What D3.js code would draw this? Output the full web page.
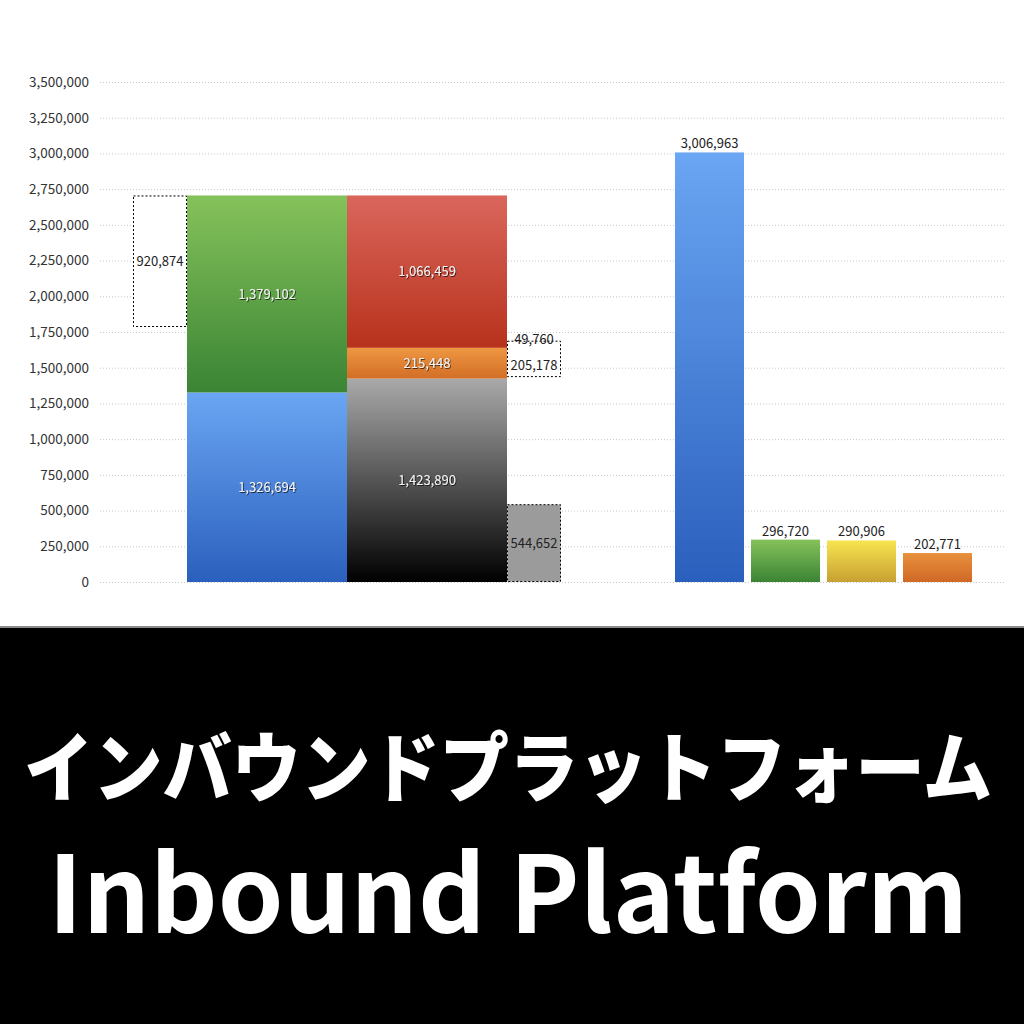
<!DOCTYPE html>
<html>
<head>
<meta charset="utf-8">
<script src="https://cdn.jsdelivr.net/npm/d3@7"></script>
<style>
  html, body { margin: 0; padding: 0; background: #fff; }
  svg { display: block; }
</style>
</head>
<body>
<div id="chart"></div>
<script>
// axis ticks
var yTicks = [0, 250000, 500000, 750000, 1000000, 1250000, 1500000, 1750000,
  2000000, 2250000, 2500000, 2750000, 3000000, 3250000, 3500000];

// left stacked columns
var stackA = [
  { name: 'blue', value: 1326694 },
  { name: 'green', value: 1379102 }
];
var stackB = [
  { name: 'gray', value: 1423890 },
  { name: 'orange', value: 215448 },
  { name: 'red', value: 1066459 }
];
// dotted side boxes
var gapA = 920874;
var gapBLow = 205178, gapBHigh = 49760;
var sideB = 544652;

// right group
var rightNames = ['blue', 'green', 'yellow', 'orange2'];
var rightValues = [3006963, 296720, 290906, 202771];

var grads = {
  blue: ['#6aa6f3', '#2b5fbd'],
  green: ['#86c25b', '#3a8434'],
  red: ['#da665c', '#b8321c'],
  orange: ['#ee9742', '#d26e26'],
  gray: ['#a9a9a9', '#000000'],
  yellow: ['#f7e550', '#c8a032'],
  orange2: ['#e8913d', '#cf6826']
};

var W = 1024, H = 1024;
var svg = d3.select('#chart').append('svg')
  .attr('width', W).attr('height', H);

var defs = svg.append('defs');
Object.keys(grads).forEach(function(k) {
  var g = defs.append('linearGradient').attr('id', 'g-' + k)
    .attr('x1', 0).attr('y1', 0).attr('x2', 0).attr('y2', 1);
  g.append('stop').attr('offset', '0%').attr('stop-color', grads[k][0]);
  g.append('stop').attr('offset', '100%').attr('stop-color', grads[k][1]);
});
var sh = defs.append('filter').attr('id', 'shadow')
  .attr('x', '-20%').attr('y', '-40%').attr('width', '140%').attr('height', '180%');
sh.append('feDropShadow').attr('dx', 0.8).attr('dy', 0.8)
  .attr('stdDeviation', 0.6).attr('flood-color', '#000').attr('flood-opacity', 0.8);

var y = d3.scaleLinear().domain([0, 3500000]).range([582, 82]);
var fmt = d3.format(',');
var numFont = '"Noto Sans CJK JP", "Noto Sans", sans-serif';

// grid
svg.append('g').selectAll('line').data(yTicks).join('line')
  .attr('x1', 100).attr('x2', 1005)
  .attr('y1', function(d) { return y(d) + 0.5; })
  .attr('y2', function(d) { return y(d) + 0.5; })
  .attr('stroke', '#c8c8c8').attr('stroke-width', 1)
  .attr('stroke-dasharray', '1,2');

// y axis labels
var yAxis = d3.axisLeft(y).tickValues(yTicks).tickFormat(fmt).tickSize(0).tickPadding(0);
svg.append('g').attr('transform', 'translate(89,0)').call(yAxis)
  .call(function(g) { g.select('.domain').remove(); })
  .selectAll('text')
  .attr('font-family', numFont).attr('font-size', 13.5).attr('fill', '#333');

// left columns
var x = d3.scaleBand().domain(['A', 'B']).range([187, 507]).padding(0);
var sideW = 54;

function drawStack(key, data) {
  var base = 0;
  var segs = data.map(function(d) {
    var s = { name: d.name, value: d.value, y0: base, y1: base + d.value };
    base += d.value;
    return s;
  });
  var g = svg.append('g');
  g.selectAll('rect').data(segs).join('rect')
    .attr('x', x(key)).attr('width', x.bandwidth())
    .attr('y', function(d) { return y(d.y1); })
    .attr('height', function(d) { return y(d.y0) - y(d.y1); })
    .attr('fill', function(d) { return 'url(#g-' + d.name + ')'; });
  g.selectAll('text').data(segs).join('text')
    .attr('x', x(key) + x.bandwidth() / 2)
    .attr('y', function(d) { return (y(d.y0) + y(d.y1)) / 2; })
    .attr('dy', '0.35em')
    .attr('text-anchor', 'middle')
    .attr('font-family', numFont).attr('font-size', 13)
    .attr('fill', '#f2f2f2')
    .attr('filter', 'url(#shadow)')
    .text(function(d) { return fmt(d.value); });
  return base;
}
var totalA = drawStack('A', stackA);
var totalB = drawStack('B', stackB);

// dotted box left of column A
var boxA = svg.append('g');
boxA.append('rect')
  .attr('x', x('A') - sideW + 0.5).attr('width', sideW - 1)
  .attr('y', y(totalA) + 0.5).attr('height', y(totalA - gapA) - y(totalA) - 1)
  .attr('fill', '#fff').attr('stroke', '#000').attr('stroke-dasharray', '2,2');
boxA.append('text')
  .attr('x', x('A') - sideW / 2).attr('y', y(totalA - gapA / 2)).attr('dy', '0.35em')
  .attr('text-anchor', 'middle').attr('font-family', numFont).attr('font-size', 13)
  .attr('fill', '#222').text(fmt(gapA));

// dotted box right of column B, straddling the orange top
var orangeTop = stackB[0].value + stackB[1].value;
var bx = x('B') + x.bandwidth();
var boxB = svg.append('g');
boxB.append('rect')
  .attr('x', bx + 0.5).attr('width', sideW - 1)
  .attr('y', y(orangeTop + gapBHigh) + 0.5)
  .attr('height', y(orangeTop - gapBLow) - y(orangeTop + gapBHigh) - 1)
  .attr('fill', '#fff').attr('stroke', '#000').attr('stroke-dasharray', '2,2');
boxB.append('text')
  .attr('x', bx + sideW / 2).attr('y', y(orangeTop + gapBHigh) + 3)
  .attr('text-anchor', 'middle').attr('font-family', numFont).attr('font-size', 13)
  .attr('fill', '#222').text(fmt(gapBHigh));
boxB.append('text')
  .attr('x', bx + sideW / 2).attr('y', y(orangeTop - gapBLow / 2) + 2.5).attr('dy', '0.35em')
  .attr('text-anchor', 'middle').attr('font-family', numFont).attr('font-size', 13)
  .attr('fill', '#222').text(fmt(gapBLow));

// gray dotted box at the bottom
var boxC = svg.append('g');
boxC.append('rect')
  .attr('x', bx + 0.5).attr('width', sideW - 1)
  .attr('y', y(sideB) + 0.5).attr('height', y(0) - y(sideB) - 1)
  .attr('fill', '#9b9b9b').attr('stroke', '#000').attr('stroke-dasharray', '2,2');
boxC.append('text')
  .attr('x', bx + sideW / 2).attr('y', y(sideB / 2)).attr('dy', '0.35em')
  .attr('text-anchor', 'middle').attr('font-family', numFont).attr('font-size', 13)
  .attr('fill', '#222').text(fmt(sideB));

// right group
var xr = d3.scaleBand().domain(rightNames).range([671.5, 975.5])
  .paddingInner(0.092).paddingOuter(0.046);
var right = svg.append('g');
right.selectAll('rect').data(rightValues).join('rect')
  .attr('x', function(d, i) { return xr(rightNames[i]); })
  .attr('width', xr.bandwidth())
  .attr('y', function(d) { return y(d); })
  .attr('height', function(d) { return y(0) - y(d); })
  .attr('fill', function(d, i) { return 'url(#g-' + rightNames[i] + ')'; });
right.selectAll('text').data(rightValues).join('text')
  .attr('x', function(d, i) { return xr(rightNames[i]) + xr.bandwidth() / 2; })
  .attr('y', function(d) { return y(d) - 4; })
  .attr('text-anchor', 'middle').attr('font-family', numFont).attr('font-size', 13)
  .attr('fill', '#222')
  .text(function(d) { return fmt(d); });

// banner
svg.append('rect').attr('x', 0).attr('y', 628).attr('width', W).attr('height', H - 628)
  .attr('fill', '#000');
svg.append('rect').attr('x', 0).attr('y', 626).attr('width', W).attr('height', 2)
  .attr('fill', '#8a8a8a');

svg.append('text')
  .attr('x', 24).attr('y', 796)
  .attr('textLength', 968).attr('lengthAdjust', 'spacingAndGlyphs')
  .attr('font-family', '"Noto Sans CJK JP", sans-serif')
  .attr('font-weight', 900).attr('font-size', 76).attr('fill', '#fff')
  .text('インバウンドプラットフォーム');

svg.append('text')
  .attr('x', 48).attr('y', 933)
  .attr('textLength', 920).attr('lengthAdjust', 'spacingAndGlyphs')
  .attr('font-family', '"Noto Sans CJK JP", sans-serif')
  .attr('font-weight', 700).attr('font-size', 107).attr('fill', '#fff')
  .text('Inbound Platform');
</script>
</body>
</html>
